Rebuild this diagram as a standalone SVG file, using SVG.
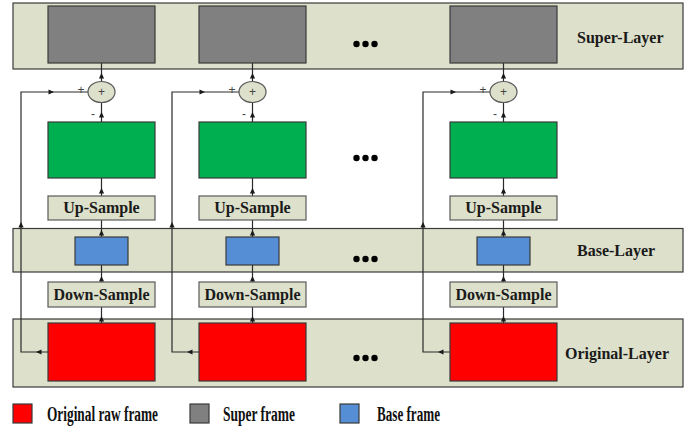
<svg xmlns="http://www.w3.org/2000/svg" xmlns:xlink="http://www.w3.org/1999/xlink" width="699" height="430" viewBox="0 0 699 430">
<style>
.band{fill:#dde0ca;stroke:#3a3a3a;stroke-width:1.2}
.box{stroke:#3a3a3a;stroke-width:1.2}
.gray{fill:#808080}
.green{fill:#00b050}
.red{fill:#ff0000}
.blue{fill:#558ed5}
.op{fill:#dde0ca;stroke:#5a5a5a;stroke-width:1.2}
.ln{fill:none;stroke:#2a2a2a;stroke-width:1.2}
.lbl{font-family:"Liberation Serif","Times New Roman",serif;font-weight:bold;font-size:16px;fill:#1a1a1a}
.sm{font-family:"Liberation Sans",Arial,sans-serif;font-size:12px;fill:#444}
.leg{font-family:"Liberation Serif","Times New Roman",serif;font-weight:bold;font-size:20px;fill:#111}
.dot{fill:#000}
</style>
<defs>
<path id="ah" d="M0,0 L-5.5,-2.6 L-5.5,2.6 Z" fill="#1a1a1a"/>
</defs>
<g id="bands">
<rect id="super-layer" class="band" x="13" y="3" width="670" height="66"/>
<rect id="base-layer" class="band" x="13" y="228.5" width="670" height="43.5"/>
<rect id="original-layer" class="band" x="13" y="319" width="670" height="68"/>
</g>
<g id="connectors">
<path class="ln" d="M101.5,63 V81 M101.5,103 V122 M101.5,178 V196 M101.5,220 V237 M101.5,265 V282 M101.5,307 V323"/>
<path class="ln" d="M48,352 H21 V92 H88.5"/>
<use xlink:href="#ah" transform="translate(101.5,73) rotate(-90)"/>
<use xlink:href="#ah" transform="translate(101.5,112) rotate(-90)"/>
<use xlink:href="#ah" transform="translate(101.5,188) rotate(-90)"/>
<use xlink:href="#ah" transform="translate(101.5,230) rotate(-90)"/>
<use xlink:href="#ah" transform="translate(101.5,276) rotate(-90)"/>
<use xlink:href="#ah" transform="translate(101.5,316) rotate(-90)"/>
<use xlink:href="#ah" transform="translate(36,352) rotate(180)"/>
<use xlink:href="#ah" transform="translate(21,222) rotate(-90)"/>
<use xlink:href="#ah" transform="translate(54,92)"/>
<path class="ln" d="M252.5,63 V81 M252.5,103 V122 M252.5,178 V196 M252.5,220 V237 M252.5,265 V282 M252.5,307 V323"/>
<path class="ln" d="M199,352 H172 V92 H239.5"/>
<use xlink:href="#ah" transform="translate(252.5,73) rotate(-90)"/>
<use xlink:href="#ah" transform="translate(252.5,112) rotate(-90)"/>
<use xlink:href="#ah" transform="translate(252.5,188) rotate(-90)"/>
<use xlink:href="#ah" transform="translate(252.5,230) rotate(-90)"/>
<use xlink:href="#ah" transform="translate(252.5,276) rotate(-90)"/>
<use xlink:href="#ah" transform="translate(252.5,316) rotate(-90)"/>
<use xlink:href="#ah" transform="translate(187,352) rotate(180)"/>
<use xlink:href="#ah" transform="translate(172,222) rotate(-90)"/>
<use xlink:href="#ah" transform="translate(205,92)"/>
<path class="ln" d="M503.5,63 V81 M503.5,103 V122 M503.5,178 V196 M503.5,220 V237 M503.5,265 V282 M503.5,307 V323"/>
<path class="ln" d="M450,352 H423 V92 H490.5"/>
<use xlink:href="#ah" transform="translate(503.5,73) rotate(-90)"/>
<use xlink:href="#ah" transform="translate(503.5,112) rotate(-90)"/>
<use xlink:href="#ah" transform="translate(503.5,188) rotate(-90)"/>
<use xlink:href="#ah" transform="translate(503.5,230) rotate(-90)"/>
<use xlink:href="#ah" transform="translate(503.5,276) rotate(-90)"/>
<use xlink:href="#ah" transform="translate(503.5,316) rotate(-90)"/>
<use xlink:href="#ah" transform="translate(438,352) rotate(180)"/>
<use xlink:href="#ah" transform="translate(423,222) rotate(-90)"/>
<use xlink:href="#ah" transform="translate(456,92)"/>
<text class="sm" x="81" y="94" text-anchor="middle">+</text>
<text class="sm" x="93" y="118" text-anchor="middle">-</text>
<text class="sm" x="232" y="94" text-anchor="middle">+</text>
<text class="sm" x="244" y="118" text-anchor="middle">-</text>
<text class="sm" x="483" y="94" text-anchor="middle">+</text>
<text class="sm" x="495" y="118" text-anchor="middle">-</text>
</g>
<g id="col1">
<rect id="super1" class="box gray" x="48" y="6" width="107" height="57"/>
<g id="sum1"><ellipse class="op" cx="101.5" cy="92" rx="13.5" ry="10.5"/><text class="sm" x="101.5" y="96" text-anchor="middle">+</text></g>
<rect id="green1" class="box green" x="48" y="122" width="107" height="56"/>
<g id="up1"><rect class="op" x="48" y="196" width="107" height="24"/><text class="lbl" x="101.5" y="213" text-anchor="middle">Up-Sample</text></g>
<rect id="base1" class="box blue" x="75" y="237" width="53" height="28"/>
<g id="down1"><rect class="op" x="48" y="282" width="107" height="25"/><text class="lbl" x="101.5" y="300" text-anchor="middle">Down-Sample</text></g>
<rect id="orig1" class="box red" x="48" y="323" width="107" height="58"/>
</g>
<g id="col2">
<rect id="super2" class="box gray" x="199" y="6" width="107" height="57"/>
<g id="sum2"><ellipse class="op" cx="252.5" cy="92" rx="13.5" ry="10.5"/><text class="sm" x="252.5" y="96" text-anchor="middle">+</text></g>
<rect id="green2" class="box green" x="199" y="122" width="107" height="56"/>
<g id="up2"><rect class="op" x="199" y="196" width="107" height="24"/><text class="lbl" x="252.5" y="213" text-anchor="middle">Up-Sample</text></g>
<rect id="base2" class="box blue" x="226" y="237" width="53" height="28"/>
<g id="down2"><rect class="op" x="199" y="282" width="107" height="25"/><text class="lbl" x="252.5" y="300" text-anchor="middle">Down-Sample</text></g>
<rect id="orig2" class="box red" x="199" y="323" width="107" height="58"/>
</g>
<g id="col3">
<rect id="super3" class="box gray" x="450" y="6" width="107" height="57"/>
<g id="sum3"><ellipse class="op" cx="503.5" cy="92" rx="13.5" ry="10.5"/><text class="sm" x="503.5" y="96" text-anchor="middle">+</text></g>
<rect id="green3" class="box green" x="450" y="122" width="107" height="56"/>
<g id="up3"><rect class="op" x="450" y="196" width="107" height="24"/><text class="lbl" x="503.5" y="213" text-anchor="middle">Up-Sample</text></g>
<rect id="base3" class="box blue" x="477" y="237" width="53" height="28"/>
<g id="down3"><rect class="op" x="450" y="282" width="107" height="25"/><text class="lbl" x="503.5" y="300" text-anchor="middle">Down-Sample</text></g>
<rect id="orig3" class="box red" x="450" y="323" width="107" height="58"/>
</g>
<g id="ellipses">
<circle class="dot" cx="356.5" cy="44" r="3.2"/><circle class="dot" cx="365.5" cy="44" r="3.2"/><circle class="dot" cx="374.5" cy="44" r="3.2"/>
<circle class="dot" cx="356.5" cy="158" r="3.2"/><circle class="dot" cx="365.5" cy="158" r="3.2"/><circle class="dot" cx="374.5" cy="158" r="3.2"/>
<circle class="dot" cx="356.5" cy="259" r="3.2"/><circle class="dot" cx="365.5" cy="259" r="3.2"/><circle class="dot" cx="374.5" cy="259" r="3.2"/>
<circle class="dot" cx="356.5" cy="358" r="3.2"/><circle class="dot" cx="365.5" cy="358" r="3.2"/><circle class="dot" cx="374.5" cy="358" r="3.2"/>
</g>
<g id="layer-labels">
<text class="lbl" x="577" y="42.5">Super-Layer</text>
<text class="lbl" x="577" y="256">Base-Layer</text>
<text class="lbl" x="565" y="359">Original-Layer</text>
</g>
<g id="legend">
<rect class="box red" x="13" y="404" width="19" height="19"/>
<text class="leg" x="47" y="421" textLength="111" lengthAdjust="spacingAndGlyphs">Original raw frame</text>
<rect class="box gray" x="190" y="404" width="19" height="19"/>
<text class="leg" x="223" y="421" textLength="72" lengthAdjust="spacingAndGlyphs">Super frame</text>
<rect class="box blue" x="340" y="404" width="19" height="19"/>
<text class="leg" x="377" y="421" textLength="63" lengthAdjust="spacingAndGlyphs">Base frame</text>
</g>
</svg>
